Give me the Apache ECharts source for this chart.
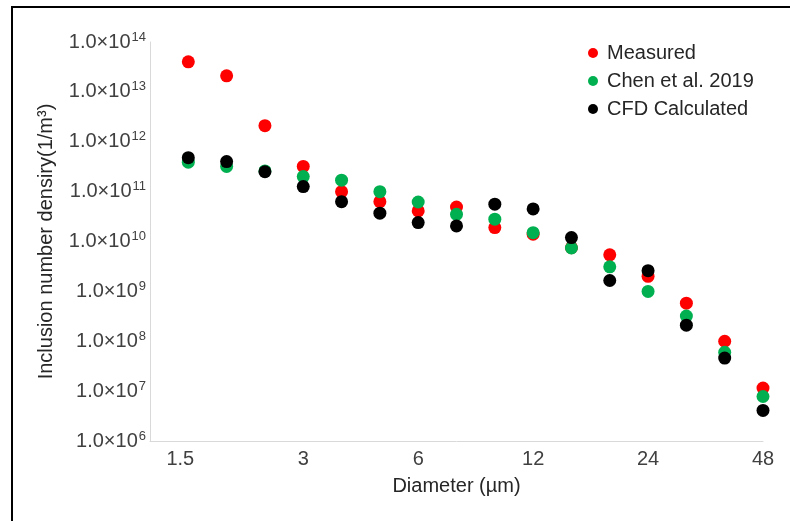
<!DOCTYPE html>
<html>
<head>
<meta charset="utf-8">
<script src="https://cdn.jsdelivr.net/npm/echarts@6/dist/echarts.min.js"></script>
<style>html,body{margin:0;padding:0;background:#fff;}#c{width:790px;height:521px;}</style>
</head>
<body>
<div id="c"></div>
<script>
// Diameter classes (µm), log-spaced by 2^(1/3)
var diameters = ['1.5','1.9','2.4','3','3.8','4.8','6','7.6','9.5','12','15','19','24','30','38','48'];
var xTickLabels = ['1.5','3','6','12','24','48'];
var measured = [4.0e13, 2.1e13, 2.1e12, 3.2e11, 1.0e11, 6.3e10, 4.1e10, 4.9e10, 1.9e10, 1.4e10, 7.5e9, 5.4e9, 2.0e9, 5.8e8, 1.0e8, 1.15e7];
var chen2019 = [3.9e11, 3.2e11, 2.6e11, 2.0e11, 1.7e11, 1.0e11, 6.2e10, 3.5e10, 2.8e10, 1.5e10, 7.4e9, 3.1e9, 1.0e9, 3.2e8, 6.0e7, 7.8e6];
var cfdCalc = [4.8e11, 4.0e11, 2.5e11, 1.26e11, 6.3e10, 3.7e10, 2.4e10, 2.05e10, 5.6e10, 4.5e10, 1.2e10, 1.65e9, 2.6e9, 2.1e8, 4.6e7, 4.1e6];
var seriesNames = ['Measured', 'Chen et al. 2019', 'CFD Calculated'];
var seriesColors = ['#ff0000', '#00b050', '#000000'];

var categories = [''].concat(diameters);
function pairs(vals){ return vals.map(function(v,i){ return [diameters[i], v]; }); }

var FONT = 'Liberation Sans, Arial, sans-serif';
var chart = echarts.init(document.getElementById('c'), null, {renderer:'canvas'});
chart.setOption({
  backgroundColor: '#ffffff',
  animation: false,
  grid: {left: 150, right: 27, top: 42, bottom: 80, containLabel: false},
  graphic: [{
    type: 'rect', shape: {x: 12, y: 7, width: 820, height: 560},
    style: {fill: 'none', stroke: '#000', lineWidth: 2}, z: 100
  }],
  legend: {
    orient: 'vertical', left: 583, top: 38, itemWidth: 10, itemHeight: 10, itemGap: 8,
    icon: 'circle',
    textStyle: {fontFamily: FONT, fontSize: 20, color: '#262626', padding: [0,0,0,4]},
    data: seriesNames
  },
  xAxis: {
    type: 'category', data: categories, boundaryGap: false,
    name: 'Diameter (µm)', nameLocation: 'middle', nameGap: 35,
    nameTextStyle: {fontFamily: FONT, fontSize: 20, color: '#262626'},
    axisLine: {show: true, lineStyle: {color: '#d9d9d9', width: 1}},
    axisTick: {show: false},
    splitLine: {show: false},
    axisLabel: {
      interval: function(idx, val){ return xTickLabels.indexOf(val) >= 0; },
      fontFamily: FONT, fontSize: 20, color: '#404040', margin: 8,
      formatter: function(v){ return v === '1.5' ? '{a|1.5}' : v; },
      rich: {a: {fontFamily: FONT, fontSize: 20, color: '#404040', padding: [0,16,0,0]}}
    }
  },
  yAxis: {
    type: 'log', logBase: 10, min: 1e6, max: 1e14, interval: 1,
    name: 'Inclusion number densiry(1/m³)', nameLocation: 'middle', nameGap: 94, nameRotate: 90,
    nameTextStyle: {fontFamily: FONT, fontSize: 20, color: '#262626'},
    axisLine: {show: true, lineStyle: {color: '#d9d9d9', width: 1}},
    axisTick: {show: false},
    splitLine: {show: false},
    axisLabel: {
      margin: 4,
      formatter: function(v){ var e = Math.round(Math.log10(v)); return '{m|1.0×10}{e|' + e + '}'; },
      rich: {
        m: {fontFamily: FONT, fontSize: 20, color: '#404040'},
        e: {fontFamily: FONT, fontSize: 13, color: '#404040', padding: [0,0,10,1]}
      }
    }
  },
  series: [
    {name: seriesNames[0], type: 'scatter', symbolSize: 13, itemStyle: {color: seriesColors[0], opacity: 1}, data: pairs(measured), z: 2},
    {name: seriesNames[1], type: 'scatter', symbolSize: 13, itemStyle: {color: seriesColors[1], opacity: 1}, data: pairs(chen2019), z: 3},
    {name: seriesNames[2], type: 'scatter', symbolSize: 13, itemStyle: {color: seriesColors[2], opacity: 1}, data: pairs(cfdCalc), z: 4}
  ]
});
</script>
</body>
</html>
